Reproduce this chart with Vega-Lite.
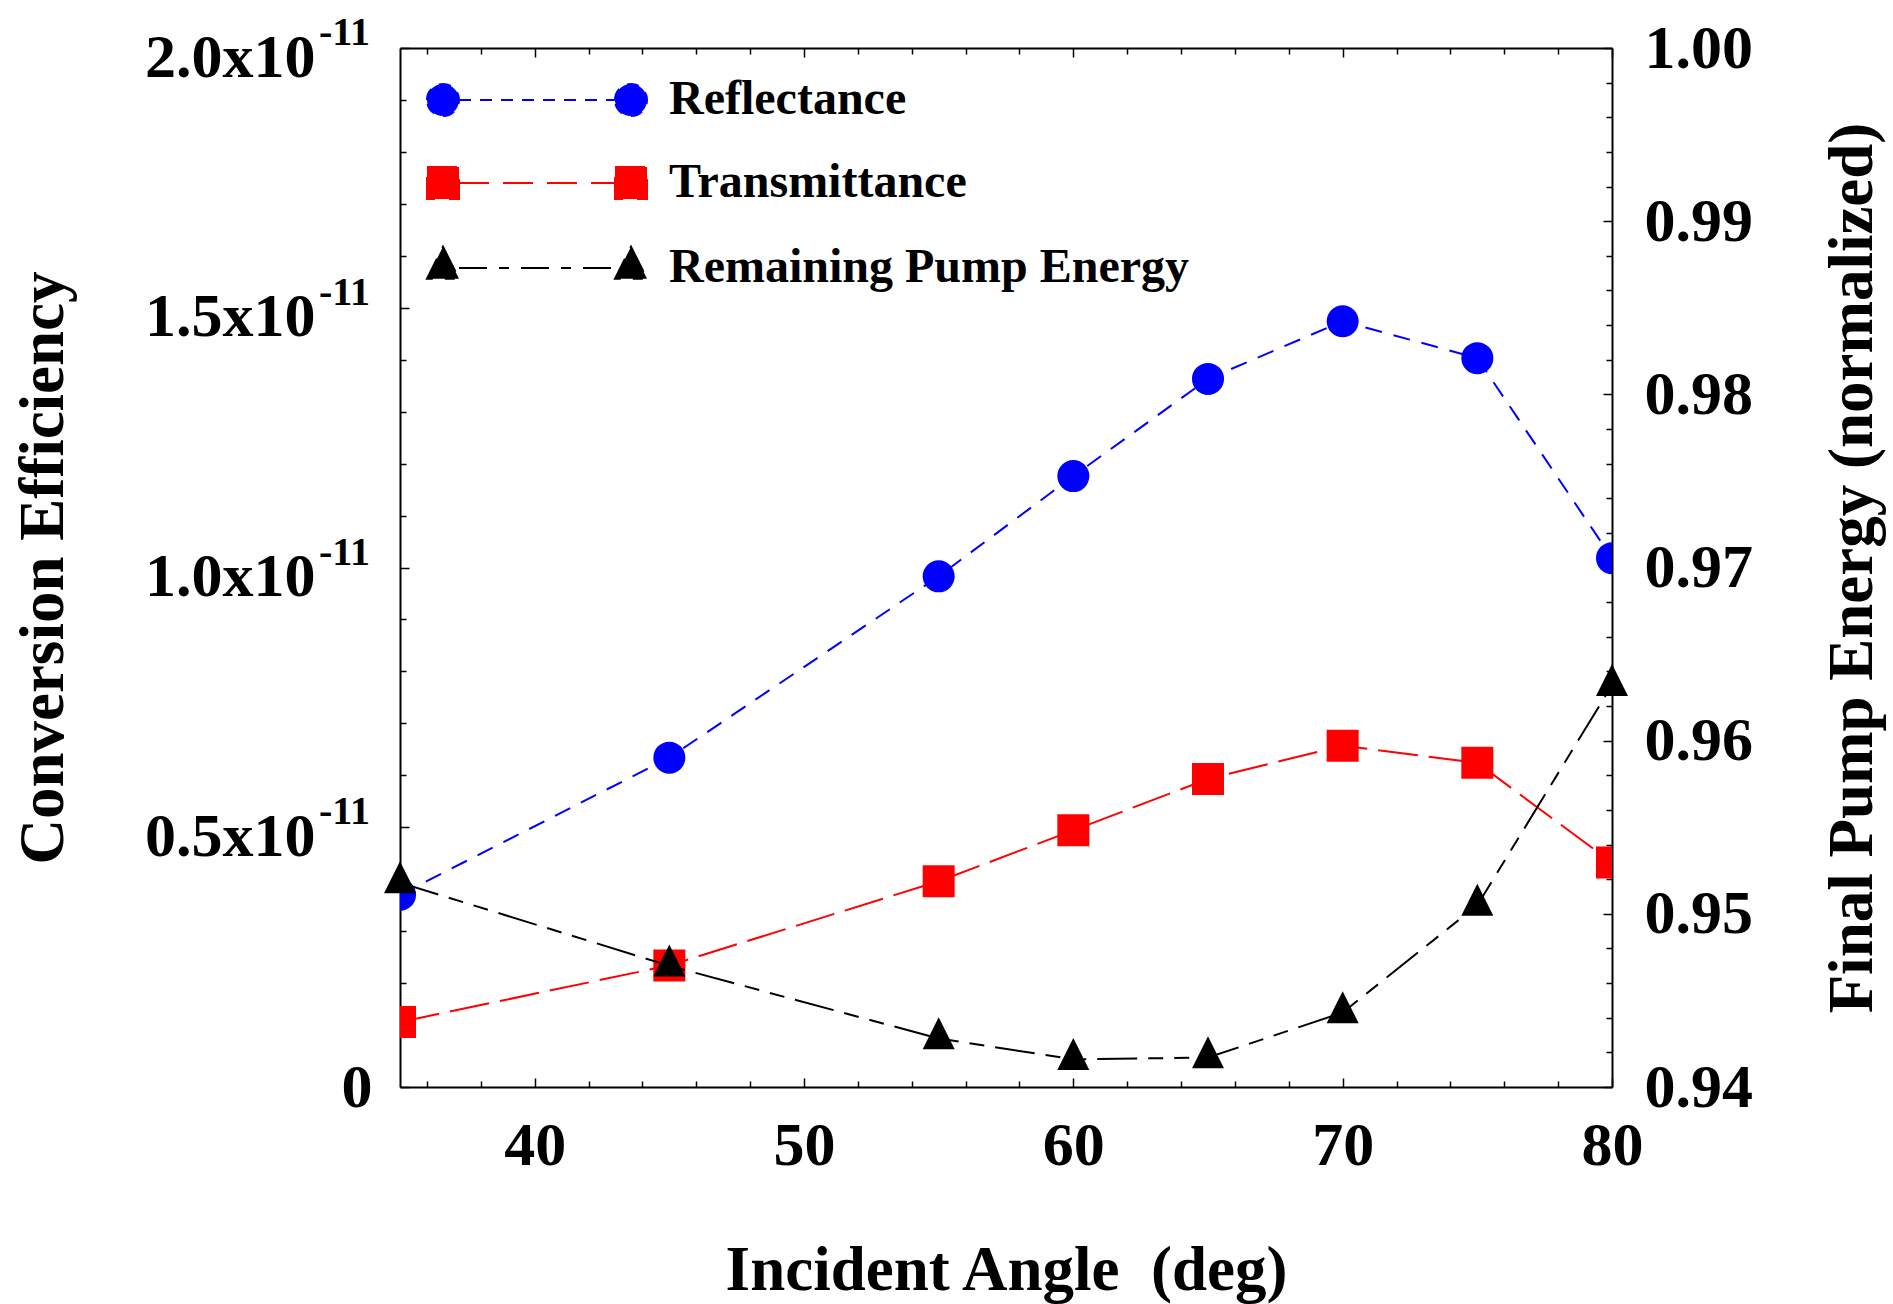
{
  "$schema": "https://vega.github.io/schema/vega-lite/v6.json",
  "width": 1212,
  "height": 1039,
  "autosize": {"type": "none"},
  "padding": {"left": 400, "top": 48, "right": 281, "bottom": 217},
  "background": "white",
  "config": {
    "view": {"stroke": null},
    "axis": {
      "labelFont": "Liberation Serif", "labelFontWeight": "bold", "labelFontSize": 62, "labelColor": "black",
      "titleFont": "Liberation Serif", "titleFontWeight": "bold", "titleFontSize": 63, "titleColor": "black",
      "domainColor": "black", "domainWidth": 2, "tickColor": "black", "tickWidth": 1.5,
      "grid": false, "labelOverlap": false, "labelBound": false, "labelFlush": false, "labelLimit": 500
    }
  },
  "datasets": {
    "curves": [
      {"angle": 35, "series": "Reflectance", "value": 3.70e-12},
      {"angle": 45, "series": "Reflectance", "value": 6.34e-12},
      {"angle": 55, "series": "Reflectance", "value": 9.83e-12},
      {"angle": 60, "series": "Reflectance", "value": 1.176e-11},
      {"angle": 65, "series": "Reflectance", "value": 1.363e-11},
      {"angle": 70, "series": "Reflectance", "value": 1.474e-11},
      {"angle": 75, "series": "Reflectance", "value": 1.403e-11},
      {"angle": 80, "series": "Reflectance", "value": 1.018e-11},
      {"angle": 35, "series": "Transmittance", "value": 1.25e-12},
      {"angle": 45, "series": "Transmittance", "value": 2.34e-12},
      {"angle": 55, "series": "Transmittance", "value": 3.96e-12},
      {"angle": 60, "series": "Transmittance", "value": 4.94e-12},
      {"angle": 65, "series": "Transmittance", "value": 5.93e-12},
      {"angle": 70, "series": "Transmittance", "value": 6.57e-12},
      {"angle": 75, "series": "Transmittance", "value": 6.24e-12},
      {"angle": 80, "series": "Transmittance", "value": 4.32e-12},
      {"angle": 35, "series": "Remaining Pump Energy", "value": 0.9518},
      {"angle": 45, "series": "Remaining Pump Energy", "value": 0.9470},
      {"angle": 55, "series": "Remaining Pump Energy", "value": 0.9428},
      {"angle": 60, "series": "Remaining Pump Energy", "value": 0.9416},
      {"angle": 65, "series": "Remaining Pump Energy", "value": 0.9417},
      {"angle": 70, "series": "Remaining Pump Energy", "value": 0.9443},
      {"angle": 75, "series": "Remaining Pump Energy", "value": 0.9505},
      {"angle": 80, "series": "Remaining Pump Energy", "value": 0.9632}
    ],
    "exponents": [
      {"value": 5e-12, "exponent": "-11"},
      {"value": 1e-11, "exponent": "-11"},
      {"value": 1.5e-11, "exponent": "-11"},
      {"value": 2e-11, "exponent": "-11"}
    ]
  },
  "data": {"name": "curves"},
  "layer": [
    {
      "encoding": {
        "x": {"field": "angle", "type": "quantitative", "scale": {"domain": [35, 80], "nice": false, "zero": false},
          "axis": {"orient": "bottom", "title": "Incident Angle\u00a0 (deg)", "labelOverlap": false,
            "values": [36,38,40,42,44,46,48,50,52,54,56,58,60,62,64,66,68,70,72,74,76,78,80],
            "labelExpr": "datum.value % 10 === 0 ? format(datum.value, 'd') : ''",
            "tickSize": {"condition": {"test": "datum.value % 10 === 0", "value": -9}, "value": -6},
            "labelPadding": 37, "titlePadding": 60}},
        "y": {"field": "value", "type": "quantitative", "scale": {"domain": [0, 2e-11], "nice": false, "zero": false},
          "axis": {"orient": "left", "title": "Conversion Efficiency", "labelOverlap": false,
            "values": [0,1e-12,2e-12,3e-12,4e-12,5e-12,6e-12,7e-12,8e-12,9e-12,1e-11,1.1e-11,1.2e-11,1.3e-11,1.4e-11,1.5e-11,1.6e-11,1.7e-11,1.8e-11,1.9e-11,2e-11],
            "labelExpr": "round(datum.value*1e12) % 5 === 0 ? (round(datum.value*1e12) === 0 ? '0' : format(datum.value*1e11, '.1f') + 'x10') : ''",
            "tickSize": {"condition": {"test": "round(datum.value*1e12) % 5 === 0", "value": -9}, "value": -6},
            "labelPadding": {"condition": {"test": "round(datum.value*1e12) === 0", "value": 37}, "value": 94},
            "labelOffset": {"condition": {"test": "round(datum.value*1e12) === 0", "value": 0}, "value": 9},
            "titlePadding": 125}}
      },
      "layer": [
        {
          "transform": [{"filter": "datum.series !== 'Remaining Pump Energy'"}],
          "mark": {"type": "line", "strokeWidth": 2, "clip": true},
          "encoding": {
            "stroke": {"field": "series", "type": "nominal",
              "scale": {"domain": ["Remaining Pump Energy", "Reflectance", "Transmittance"], "range": ["#000000", "#0000ff", "#ff0000"]},
              "legend": null},
            "strokeDash": {"field": "series", "type": "nominal",
              "scale": {"domain": ["Reflectance", "Remaining Pump Energy", "Transmittance"], "range": [[17, 12], [40, 11, 15, 11, 15, 11], [40, 11]]},
              "legend": null}
          }
        },
        {
          "transform": [{"filter": "datum.series !== 'Remaining Pump Energy'"}],
          "mark": {"type": "point", "filled": true, "opacity": 1, "size": 1024, "strokeWidth": 0, "clip": true},
          "encoding": {
            "color": {"field": "series", "type": "nominal",
              "scale": {"domain": ["Reflectance", "Transmittance", "Remaining Pump Energy"], "range": ["#0000ff", "#ff0000", "#000000"]},
              "legend": {
                "orient": "none", "legendX": 113, "legendY": 28, "title": null, "padding": 0,
                "symbolSize": 1024, "symbolStrokeWidth": 2, "symbolOpacity": 1,
                "labelFont": "Liberation Serif", "labelFontWeight": "bold", "labelFontSize": 48, "labelColor": "black", "labelLimit": 1000,
                "labelOffset": 108, "rowPadding": 35,
                "encode": {"symbols": {"update": {
                  "shape": {"signal": "datum.value === 'Reflectance' ? 'M-6.875,0A1,1,0,1,1,-4.875,0A1,1,0,1,1,-6.875,0ZM-4.875,0L4.875,0M4.875,0A1,1,0,1,1,6.875,0A1,1,0,1,1,4.875,0Z' : (datum.value === 'Transmittance' ? 'M-6.875,-1L-4.875,-1L-4.875,1L-6.875,1ZM-4.875,0L4.875,0M4.875,-1L6.875,-1L6.875,1L4.875,1Z' : 'M-5.875,-1.333L-4.875,0.667L-6.875,0.667ZM-4.875,0L4.875,0M5.875,-1.333L6.875,0.667L4.875,0.667Z')"},
                  "fill": {"signal": "datum.value === 'Reflectance' ? '#0000ff' : (datum.value === 'Transmittance' ? '#ff0000' : '#000000')"},
                  "stroke": {"signal": "datum.value === 'Reflectance' ? '#0000ff' : (datum.value === 'Transmittance' ? '#ff0000' : '#000000')"},
                  "strokeDash": {"signal": "datum.value === 'Reflectance' ? [12,9] : (datum.value === 'Transmittance' ? [30,14] : [28,12,10,12])"}
                }}}
              }},
            "shape": {"field": "series", "type": "nominal",
              "scale": {"domain": ["Transmittance", "Reflectance", "Remaining Pump Energy"], "range": ["square", "circle", "M0,-1.333L1,0.667L-1,0.667Z"]},
              "legend": null}
          }
        }
      ]
    },
    {
      "transform": [{"filter": "datum.series === 'Remaining Pump Energy'"}],
      "encoding": {
        "x": {"field": "angle", "type": "quantitative", "scale": {"domain": [35, 80], "nice": false, "zero": false},
          "axis": {"orient": "top", "title": null, "labels": false,
            "values": [36,38,40,42,44,46,48,50,52,54,56,58,60,62,64,66,68,70,72,74,76,78,80],
            "tickSize": {"condition": {"test": "datum.value % 10 === 0", "value": -9}, "value": -6}}},
        "y": {"field": "value", "type": "quantitative", "scale": {"domain": [0.94, 1.0], "nice": false, "zero": false},
          "axis": {"orient": "right", "title": "Final Pump Energy (normalized)", "titleAngle": 270, "labelOverlap": false,
            "values": [0.94,0.942,0.944,0.946,0.948,0.95,0.952,0.954,0.956,0.958,0.96,0.962,0.964,0.966,0.968,0.97,0.972,0.974,0.976,0.978,0.98,0.982,0.984,0.986,0.988,0.99,0.992,0.994,0.996,0.998,1.0],
            "labelExpr": "round(datum.value*1000) % 10 === 0 ? format(datum.value, '.2f') : ''",
            "tickSize": {"condition": {"test": "round(datum.value*1000) % 10 === 0", "value": -9}, "value": -6},
            "labelPadding": 41, "titlePadding": 132}}
      },
      "layer": [
        {
          "mark": {"type": "line", "strokeWidth": 2, "clip": false},
          "encoding": {
            "stroke": {"field": "series", "type": "nominal",
              "scale": {"domain": ["Remaining Pump Energy", "Reflectance", "Transmittance"], "range": ["#000000", "#0000ff", "#ff0000"]},
              "legend": null},
            "strokeDash": {"field": "series", "type": "nominal",
              "scale": {"domain": ["Reflectance", "Remaining Pump Energy", "Transmittance"], "range": [[17, 12], [40, 11, 15, 11, 15, 11], [40, 11]]},
              "legend": null}
          }
        },
        {
          "mark": {"type": "point", "filled": true, "opacity": 1, "size": 1024, "strokeWidth": 0, "clip": false},
          "encoding": {
            "fill": {"field": "series", "type": "nominal",
              "scale": {"domain": ["Transmittance", "Remaining Pump Energy", "Reflectance"], "range": ["#ff0000", "#000000", "#0000ff"]},
              "legend": null},
            "shape": {"field": "series", "type": "nominal",
              "scale": {"domain": ["Transmittance", "Reflectance", "Remaining Pump Energy"], "range": ["square", "circle", "M0,-1.333L1,0.667L-1,0.667Z"]},
              "legend": null}
          }
        }
      ]
    },
    {
      "data": {"name": "exponents"},
      "mark": {"type": "text", "font": "Liberation Serif", "fontWeight": "bold", "fontSize": 40, "align": "right", "baseline": "alphabetic", "dx": -30, "dy": -3, "color": "black", "clip": false},
      "encoding": {
        "x": {"datum": 35, "type": "quantitative", "axis": null},
        "y": {"field": "value", "type": "quantitative", "scale": {"domain": [0, 2e-11], "nice": false, "zero": false}, "axis": null},
        "text": {"field": "exponent"}
      }
    }
  ],
  "resolve": {"scale": {"y": "independent"}, "axis": {"x": "independent"}}
}
